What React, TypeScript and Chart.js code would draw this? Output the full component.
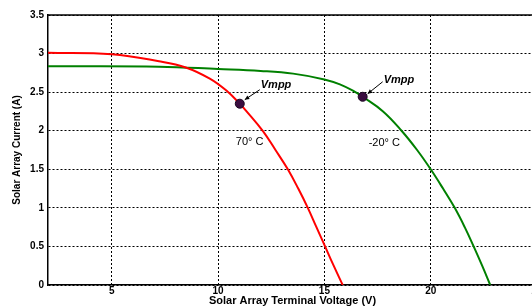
import React, { useEffect, useRef } from "react";
import { Chart, registerables } from "chart.js";

Chart.register(...registerables);

const redV = [2, 5, 7.22, 8.48, 9.61, 10.39, 11.02, 11.33, 12.11, 12.7, 13.28, 13.77, 14.22, 14.61, 15.0, 15.42, 15.86];
const redI = [3.01, 2.99, 2.9, 2.82, 2.675, 2.52, 2.35, 2.255, 1.995, 1.75, 1.5, 1.25, 1.0, 0.76, 0.52, 0.26, 0];
const greenV = [2, 7.22, 10, 12, 13.53, 15, 15.73, 16.4, 16.8, 17.76, 18.63, 19.36, 20, 20.58, 21.13, 21.6, 22.02, 22.42, 22.8];
const greenI = [2.835, 2.83, 2.8, 2.775, 2.74, 2.665, 2.6, 2.51, 2.44, 2.25, 2.0, 1.75, 1.5, 1.25, 1.0, 0.75, 0.5, 0.25, 0];
const mppV = [11.02, 16.8];
const mppI = [2.35, 2.44];
const mppLabels = ["Vmpp", "Vmpp"];
const tempLabels = ["70° C", "-20° C"];
const xTicks = [5, 10, 15, 20, 25];
const xTitle = "Solar Array Terminal Voltage (V)";
const yTitle = "Solar Array Current (A)";

const FONT = "'Liberation Sans', Arial, sans-serif";

const annotPlugin = {
  id: "annot",
  afterDatasetsDraw(chart: any) {
    const { ctx, chartArea, scales } = chart;
    const xs = scales.x;
    const ys = scales.y;
    ctx.save();
    ctx.strokeStyle = "#000";
    ctx.lineWidth = 1.5;
    ctx.beginPath();
    ctx.moveTo(chartArea.left, chartArea.top);
    ctx.lineTo(chartArea.right, chartArea.top);
    ctx.stroke();

    const textOff = [
      [21, -19],
      [21, -17],
    ];
    const arrowStart = [
      [20, -14],
      [20, -15],
    ];
    const arrowEnd = [
      [5, -4],
      [5, -3],
    ];
    const tempOff = [
      [-4, 38],
      [6, 46],
    ];
    for (let i = 0; i < mppV.length; i++) {
      const px = xs.getPixelForValue(mppV[i]);
      const py = ys.getPixelForValue(mppI[i]);
      ctx.fillStyle = "#000";
      ctx.font = "italic bold 11px " + FONT;
      ctx.textAlign = "left";
      ctx.textBaseline = "middle";
      ctx.fillText(mppLabels[i], px + textOff[i][0], py + textOff[i][1]);
      const sx = px + arrowStart[i][0];
      const sy = py + arrowStart[i][1];
      const ex = px + arrowEnd[i][0];
      const ey = py + arrowEnd[i][1];
      ctx.strokeStyle = "#000";
      ctx.lineWidth = 1;
      ctx.beginPath();
      ctx.moveTo(sx, sy);
      ctx.lineTo(ex, ey);
      ctx.stroke();
      const ang = Math.atan2(ey - sy, ex - sx);
      const hl = 5;
      ctx.beginPath();
      ctx.moveTo(ex, ey);
      ctx.lineTo(ex - hl * Math.cos(ang - 0.45), ey - hl * Math.sin(ang - 0.45));
      ctx.lineTo(ex - hl * Math.cos(ang + 0.45), ey - hl * Math.sin(ang + 0.45));
      ctx.closePath();
      ctx.fillStyle = "#000";
      ctx.fill();
      ctx.font = "11px " + FONT;
      ctx.textAlign = "left";
      ctx.fillText(tempLabels[i], px + tempOff[i][0], py + tempOff[i][1]);
    }
    ctx.restore();
  },
};

export default function App() {
  const ref = useRef<HTMLCanvasElement>(null);
  useEffect(() => {
    if (!ref.current) return;
    const chart = new Chart(ref.current, {
      type: "line",
      data: {
        datasets: [
          {
            label: "Vmpp",
            data: mppV.map((v, i) => ({ x: v, y: mppI[i] })),
            showLine: false,
            order: 0,
            pointRadius: 4.5,
            pointBackgroundColor: "#3a0d40",
            pointBorderColor: "#1a0520",
            pointBorderWidth: 1,
          },
          {
            label: "70 C",
            data: redV.map((v, i) => ({ x: v, y: redI[i] })),
            borderColor: "#ff0000",
            borderWidth: 2,
            order: 1,
            pointRadius: 0,
            tension: 0.4,
            fill: false,
          },
          {
            label: "-20 C",
            data: greenV.map((v, i) => ({ x: v, y: greenI[i] })),
            borderColor: "#008000",
            borderWidth: 2,
            order: 2,
            pointRadius: 0,
            tension: 0.4,
            fill: false,
          },
        ],
      },
      options: {
        responsive: false,
        animation: false,
        layout: { padding: { left: 11, right: 23, top: 15, bottom: 0 } },
        plugins: { legend: { display: false }, tooltip: { enabled: false } },
        scales: {
          x: {
            type: "linear",
            min: 2,
            max: 25,
            afterBuildTicks: (s: any) => {
              s.ticks = xTicks.map((v) => ({ value: v }));
            },
            afterFit: (s: any) => {
              s.height = 23;
            },
            grid: { color: "#000", lineWidth: 1, drawTicks: false },
            border: { color: "#000", width: 1.5, dash: [2, 2] },
            ticks: {
              color: "#000",
              padding: 0,
              font: { family: FONT, size: 10, weight: "bold" },
              maxRotation: 0,
            },
            title: {
              display: true,
              text: xTitle,
              color: "#000",
              font: { family: FONT, size: 11, weight: "bold" },
              padding: 0,
            },
          },
          y: {
            type: "linear",
            min: 0,
            max: 3.5,
            afterFit: (s: any) => {
              s.width = 37;
            },
            grid: { color: "#000", lineWidth: 1, drawTicks: false },
            border: { color: "#000", width: 1.5, dash: [2, 2] },
            ticks: {
              stepSize: 0.5,
              color: "#000",
              padding: 4,
              font: { family: FONT, size: 10, weight: "bold" },
              callback: (v: any) => String(Math.round(Number(v) * 10) / 10),
            },
            title: {
              display: true,
              text: yTitle,
              color: "#000",
              font: { family: FONT, size: 10, weight: "bold" },
              padding: 0,
            },
          },
        },
      },
      plugins: [annotPlugin],
    } as any);
    return () => chart.destroy();
  }, []);
  return (
    <div
      style={{
        position: "fixed",
        left: 0,
        top: 0,
        width: 532,
        height: 306,
        overflow: "hidden",
        background: "#fff",
      }}
    >
      <canvas ref={ref} width={560} height={308} style={{ display: "block" }} />
    </div>
  );
}
